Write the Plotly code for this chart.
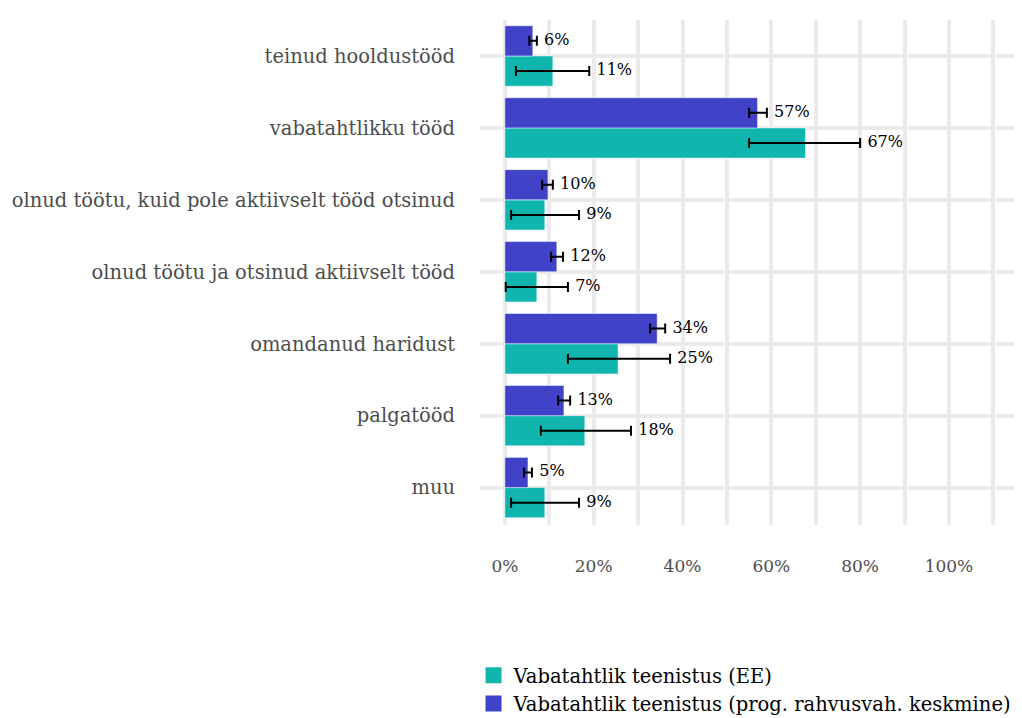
import plotly.graph_objects as go

# categories listed bottom -> top
categories = [
    "muu",
    "palgatööd",
    "omandanud haridust",
    "olnud töötu ja otsinud aktiivselt tööd",
    "olnud töötu, kuid pole aktiivselt tööd otsinud",
    "vabatahtlikku tööd",
    "teinud hooldustööd",
]

ee_values = [0.09, 0.18, 0.255, 0.072, 0.09, 0.677, 0.108]
ee_low = [0.014, 0.081, 0.142, 0.002, 0.014, 0.55, 0.025]
ee_high = [0.167, 0.284, 0.372, 0.142, 0.167, 0.80, 0.19]
ee_labels = ["9%", "18%", "25%", "7%", "9%", "67%", "11%"]

int_values = [0.052, 0.133, 0.343, 0.117, 0.097, 0.569, 0.063]
int_low = [0.043, 0.12, 0.327, 0.104, 0.084, 0.55, 0.055]
int_high = [0.061, 0.147, 0.361, 0.131, 0.108, 0.59, 0.072]
int_labels = ["5%", "13%", "34%", "12%", "10%", "57%", "6%"]

TEAL = "#10B5AE"
BLUE = "#4042C8"
FONT = "DejaVu Serif"

pos = list(range(len(categories)))
ee_pos = [p - 0.21 for p in pos]
int_pos = [p + 0.21 for p in pos]

fig = go.Figure()


def add_series(values, low, high, labels, y, color, name):
    fig.add_bar(
        x=values, y=y, orientation="h", width=0.42, marker_color=color,
        showlegend=False, name=name,
        error_x=dict(type="data", symmetric=False,
                     array=[h - v for h, v in zip(high, values)],
                     arrayminus=[v - l for v, l in zip(values, low)],
                     color="black", thickness=2, width=5),
    )
    fig.add_scatter(
        x=high, y=y, mode="markers+text", text=labels, textposition="middle right",
        marker=dict(size=10, opacity=0),
        textfont=dict(family=FONT, size=16, color="black"),
        showlegend=False, hoverinfo="skip",
    )
    # legend entry
    fig.add_scatter(
        x=[None], y=[None], mode="markers", name=name,
        marker=dict(symbol="square", size=16, color=color),
    )


add_series(ee_values, ee_low, ee_high, ee_labels, ee_pos, TEAL, "Vabatahtlik teenistus (EE)")
add_series(int_values, int_low, int_high, int_labels, int_pos, BLUE,
           "Vabatahtlik teenistus (prog. rahvusvah. keskmine)")

# page body has an 8px margin, so the margins are shifted to compensate
fig.update_layout(
    width=1022, height=718,
    template="plotly_white",
    plot_bgcolor="white",
    paper_bgcolor="white",
    barmode="overlay",
    margin=dict(l=472, r=10, t=12, b=201),
    font=dict(family=FONT, color="#4d4d4d"),
    legend=dict(
        orientation="v", xref="paper", x=-0.012, xanchor="left",
        yref="container", y=0.0975, yanchor="top",
        font=dict(family=FONT, size=19.5, color="black"),
        itemsizing="trace", tracegroupgap=0, bgcolor="rgba(0,0,0,0)",
    ),
)
fig.update_xaxes(
    range=[-0.056, 1.16],
    tickvals=[0, 0.2, 0.4, 0.6, 0.8, 1.0],
    ticktext=["0%", "20%", "40%", "60%", "80%", "100%"],
    tickfont=dict(size=17, color="#4d4d4d"),
    showgrid=True, gridcolor="#ebebeb", gridwidth=4,
    minor=dict(tickvals=[0.1, 0.3, 0.5, 0.7, 0.9, 1.1], showgrid=True,
               gridcolor="#ebebeb", gridwidth=4),
    zeroline=False, showline=False, automargin=False,
    ticks="outside", ticklen=26, tickcolor="rgba(0,0,0,0)",
)
fig.update_yaxes(
    range=[-0.52, 6.5],
    tickvals=pos, ticktext=categories,
    tickfont=dict(size=19.5, color="#4d4d4d"),
    showgrid=True, gridcolor="#ebebeb", gridwidth=4,
    zeroline=False, showline=False, automargin=False,
    ticks="outside", ticklen=20, tickcolor="rgba(0,0,0,0)",
)

fig.write_html("out.html")
